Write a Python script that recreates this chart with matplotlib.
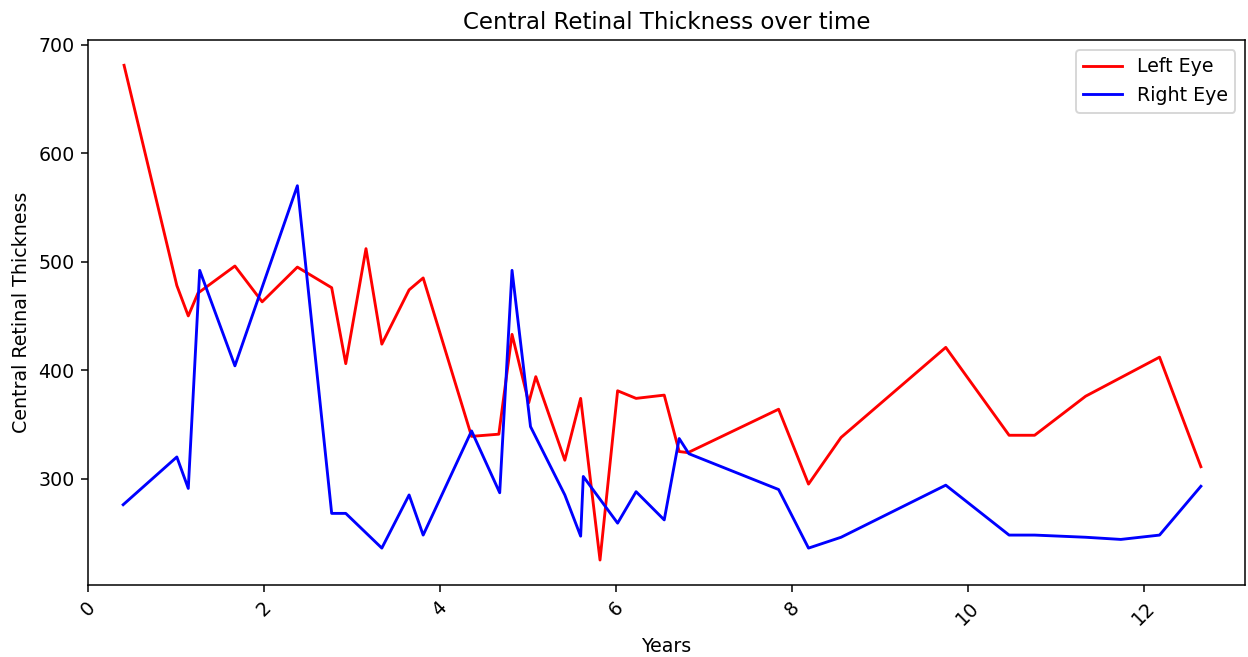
import matplotlib
matplotlib.use("Agg")
import matplotlib.pyplot as plt

# Left eye measurements (years since first visit, thickness)
left_years = [0.41, 1.01, 1.14, 1.25, 1.67, 1.98, 2.38, 2.77, 2.93, 3.16, 3.34, 3.65, 3.81,
              4.36, 4.67, 4.82, 5.01, 5.09, 5.42, 5.60, 5.82, 6.02, 6.23, 6.55, 6.72, 6.82,
              7.85, 8.19, 8.56, 9.75, 10.47, 10.76, 11.34, 12.18, 12.65]
left_crt = [681, 478, 450, 471, 496, 463, 495, 476, 406, 512, 424, 474, 485,
            339, 341, 433, 370, 394, 317, 374, 225, 381, 374, 377, 325, 324,
            364, 295, 338, 421, 340, 340, 376, 412, 311]

# Right eye measurements
right_years = [0.40, 1.01, 1.14, 1.27, 1.67, 2.38, 2.77, 2.93, 3.34, 3.65, 3.81, 4.36, 4.68,
               4.82, 5.03, 5.42, 5.60, 5.63, 6.02, 6.23, 6.55, 6.72, 6.83, 7.85, 8.19, 8.56,
               9.75, 10.47, 10.76, 11.34, 11.74, 12.18, 12.65]
right_crt = [276, 320, 291, 492, 404, 570, 268, 268, 236, 285, 248, 344, 287,
             492, 348, 285, 247, 302, 259, 288, 262, 337, 323, 290, 236, 246,
             294, 248, 248, 246, 244, 248, 293]

DPI = 137
fig = plt.figure(figsize=(1248 / DPI, 657 / DPI), dpi=DPI)
ax = fig.add_axes([0.0705, 0.1096, 0.927, 0.829])

ax.plot(left_years, left_crt, color="red", label="Left Eye")
ax.plot(right_years, right_crt, color="blue", label="Right Eye")

ax.set_title("Central Retinal Thickness over time")
ax.set_xlabel("Years")
ax.set_ylabel("Central Retinal Thickness")
ax.set_xlim(0, 13.15)
ax.set_ylim(202, 704)
plt.setp(ax.get_xticklabels(), rotation=45)
ax.legend(loc="upper right")

fig.savefig("out.png", dpi=DPI)
